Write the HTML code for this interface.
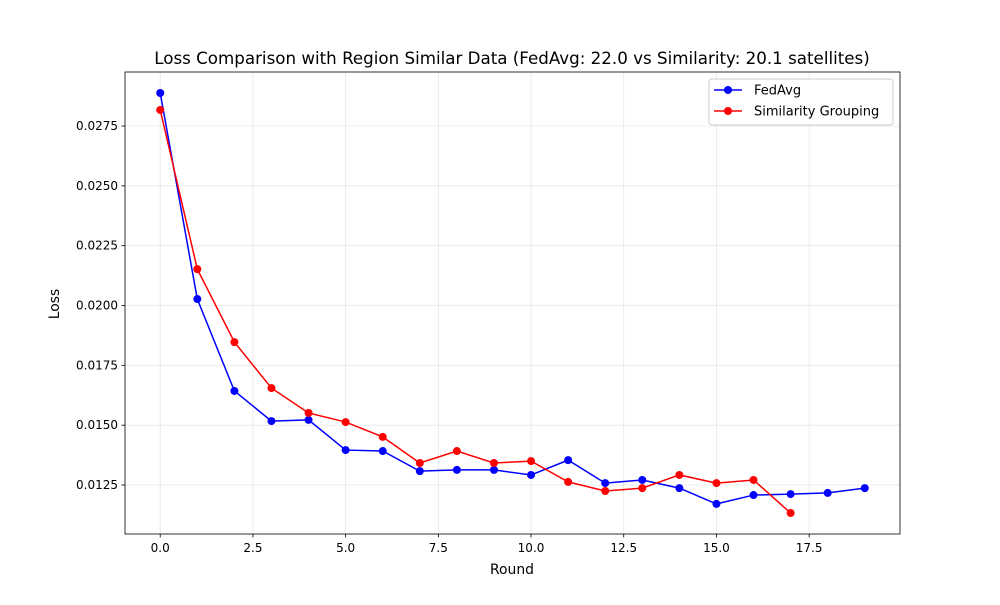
<!DOCTYPE html>
<html><head><meta charset="utf-8"><style>
body{margin:0;background:#fff;}
svg{font-family:"DejaVu Sans","Liberation Sans",sans-serif;}
</style></head><body>
<svg id="chart" width="1000" height="600" viewBox="0 0 1000 600">
<rect width="1000" height="600" fill="#fff"/>
<text x="512" y="64" font-size="16.7" text-anchor="middle">Loss Comparison with Region Similar Data (FedAvg: 22.0 vs Similarity: 20.1 satellites)</text>
<g id="grid"></g><g id="axes"></g><g id="series"></g>
<text x="512" y="574" font-size="13.9" text-anchor="middle">Round</text>
<text x="0" y="0" font-size="13.9" text-anchor="middle" transform="translate(59,304) rotate(-90)">Loss</text>
</svg>
<script>
const xTicks=[0,2.5,5,7.5,10,12.5,15,17.5];
const xTickLabels=["0.0","2.5","5.0","7.5","10.0","12.5","15.0","17.5"];
const yTicks=[0.0125,0.015,0.0175,0.02,0.0225,0.025,0.0275];
const yTickLabels=["0.0125","0.0150","0.0175","0.0200","0.0225","0.0250","0.0275"];
const fedAvg=[0.02888,0.02027,0.01643,0.01517,0.01522,0.01396,0.01392,0.01308,0.01313,0.01313,0.01292,0.01354,0.01258,0.01271,0.01237,0.01171,0.01208,0.01212,0.01217,0.01237];
const similarity=[0.02817,0.02152,0.01847,0.01655,0.01551,0.01513,0.01451,0.01342,0.01392,0.01342,0.0135,0.01263,0.01225,0.01237,0.01292,0.01258,0.01271,0.01133];
const L=125,R=900,T=72,B=534,xmin=-0.95,xmax=19.95,ymin=0.010453,ymax=0.029757;
const xs=v=>L+(v-xmin)/(xmax-xmin)*(R-L);
const ys=v=>B-(v-ymin)/(ymax-ymin)*(B-T);
const NS="http://www.w3.org/2000/svg";
function mk(tag,attrs,parent){const e=document.createElementNS(NS,tag);for(const k in attrs)e.setAttribute(k,attrs[k]);parent.appendChild(e);return e;}
const grid=document.getElementById('grid'),axes=document.getElementById('axes'),ser=document.getElementById('series');
xTicks.forEach((t,i)=>{const x=xs(t);
 const g=mk('line',{x1:x,x2:x,y1:T,y2:B,stroke:'#b0b0b0','stroke-width':0.8,'stroke-opacity':0.3},grid);
 
 mk('line',{x1:x,x2:x,y1:B,y2:B+3.5,stroke:'#000','stroke-width':0.8},axes);
 const tx=mk('text',{x:x,y:B+18,'font-size':12,'text-anchor':'middle'},axes);tx.textContent=xTickLabels[i];
 });
yTicks.forEach((t,i)=>{const y=ys(t);
 const g=mk('line',{x1:L,x2:R,y1:y,y2:y,stroke:'#b0b0b0','stroke-width':0.8,'stroke-opacity':0.3},grid);
 
 mk('line',{x1:L-3.5,x2:L,y1:y,y2:y,stroke:'#000','stroke-width':0.8},axes);
 const tx=mk('text',{x:L-7,y:y+4,'font-size':12,'text-anchor':'end'},axes);tx.textContent=yTickLabels[i];
 });
const fr=mk('rect',{x:L,y:T,width:R-L,height:B-T,fill:'none',stroke:'#000','stroke-width':0.8},axes);

function draw(data,color,name){
 const pts=data.map((v,i)=>xs(i)+','+ys(v)).join(' ');
 const pl=mk('polyline',{points:pts,fill:'none',stroke:color,'stroke-width':1.5},ser);
 
 data.forEach((v,i)=>{const c=mk('circle',{cx:xs(i),cy:ys(v),r:4,fill:color},ser);
  });
}
draw(fedAvg,'#0000ff','fedavg');
draw(similarity,'#ff0000','similarity');
const lg=mk('g',{},ser);
mk('rect',{x:709,y:79,width:184,height:46,fill:'#fff',stroke:'#ccc',rx:3},lg);
[['FedAvg','#0000ff',90],['Similarity Grouping','#ff0000',111]].forEach(([n,c,y])=>{
 const e=mk('g',{},lg);
 mk('line',{x1:714,x2:742,y1:y,y2:y,stroke:c,'stroke-width':1.5},e);
 mk('circle',{cx:728,cy:y,r:4,fill:c},e);
 const t=mk('text',{x:754,y:y+4.5,'font-size':13},e);t.textContent=n;});
</script>
</body></html>
